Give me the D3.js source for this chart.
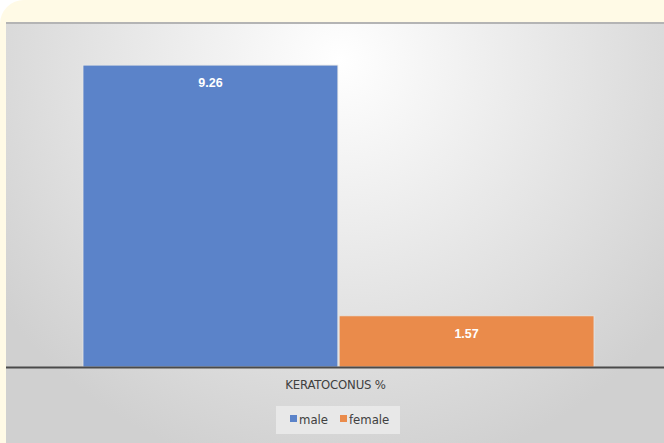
<!DOCTYPE html>
<html>
<head>
<meta charset="utf-8">
<script src="https://cdn.jsdelivr.net/npm/d3@7"></script>
<style>
  body { margin: 0; background: #fff; }
  svg { display: block; }
</style>
</head>
<body>
<svg id="chart" width="664" height="443"></svg>
<script>
var categories = ["KERATOCONUS %"];
var seriesNames = ["male", "female"];
var seriesValues = [9.26, 1.57];
var seriesColors = ["#5b83c9", "#ea8b4b"];

var w = 664, h = 443;
var svg = d3.select("#chart");
var defs = svg.append("defs");

// cream page frame with rounded top
svg.append("rect")
  .attr("x", 0).attr("y", 0).attr("width", w + 30).attr("height", h + 30)
  .attr("rx", 24).attr("fill", "#fffae6");

var grad = defs.append("radialGradient")
  .attr("id", "bg")
  .attr("gradientUnits", "userSpaceOnUse")
  .attr("cx", 340).attr("cy", 60).attr("r", 420);
grad.append("stop").attr("offset", "0%").attr("stop-color", "#ffffff");
grad.append("stop").attr("offset", "100%").attr("stop-color", "#d0d0d0");

svg.append("rect")
  .attr("x", 6).attr("y", 22).attr("width", w - 6).attr("height", h - 22)
  .attr("fill", "url(#bg)");
svg.append("line")
  .attr("x1", 6).attr("x2", w).attr("y1", 23).attr("y2", 23)
  .attr("stroke", "#b4b4b4").attr("stroke-width", 2);

var plotTop = 41, plotBottom = 367;
var x0 = d3.scaleBand().domain(categories).range([83, 594]);
var x1 = d3.scaleBand().domain(seriesNames).range([0, x0.bandwidth()]).paddingInner(0.005);
var y = d3.scaleLinear().domain([0, 10]).range([plotBottom, plotTop]);

var bars = svg.append("g");
seriesNames.forEach(function(name, i) {
  var bx = x0(categories[0]) + x1(name);
  bars.append("rect")
    .attr("x", bx)
    .attr("y", y(seriesValues[i]))
    .attr("width", x1.bandwidth())
    .attr("height", y(0) - y(seriesValues[i]))
    .attr("fill", seriesColors[i])
    .attr("stroke", "#e6e6e6").attr("stroke-width", 0.8);
  bars.append("text")
    .attr("x", bx + x1.bandwidth() / 2)
    .attr("y", y(seriesValues[i]) + 22)
    .attr("text-anchor", "middle")
    .attr("fill", "#ffffff")
    .attr("font-family", "'Liberation Sans', Arial, sans-serif")
    .attr("font-weight", "bold")
    .attr("font-size", 12.5)
    .text(seriesValues[i].toFixed(2));
});

// axis line
svg.append("line")
  .attr("x1", 6).attr("x2", w).attr("y1", plotBottom + 0.5).attr("y2", plotBottom + 0.5)
  .attr("stroke", "#4a4a4a").attr("stroke-width", 2);

svg.append("text")
  .attr("x", x0(categories[0]) + x0.bandwidth() / 2 - 3)
  .attr("y", 389)
  .attr("text-anchor", "middle")
  .attr("fill", "#404040")
  .attr("font-family", "'DejaVu Sans Condensed', 'Liberation Sans Narrow', sans-serif")
  .attr("font-size", 13)
  .attr("letter-spacing", -0.2)
  .text(categories[0]);

// legend
var legend = svg.append("g");
legend.append("rect")
  .attr("x", 276).attr("y", 406).attr("width", 124).attr("height", 28)
  .attr("fill", "#ececec").attr("opacity", 0.8);
var lx = [290, 340];
seriesNames.forEach(function(name, i) {
  legend.append("rect")
    .attr("x", lx[i]).attr("y", 415).attr("width", 7).attr("height", 7)
    .attr("fill", seriesColors[i]);
  legend.append("text")
    .attr("x", lx[i] + 9).attr("y", 424)
    .attr("fill", "#404040")
    .attr("font-family", "'DejaVu Sans Condensed', 'Liberation Sans Narrow', sans-serif")
    .attr("font-size", 13)
    .text(name);
});
</script>
</body>
</html>
